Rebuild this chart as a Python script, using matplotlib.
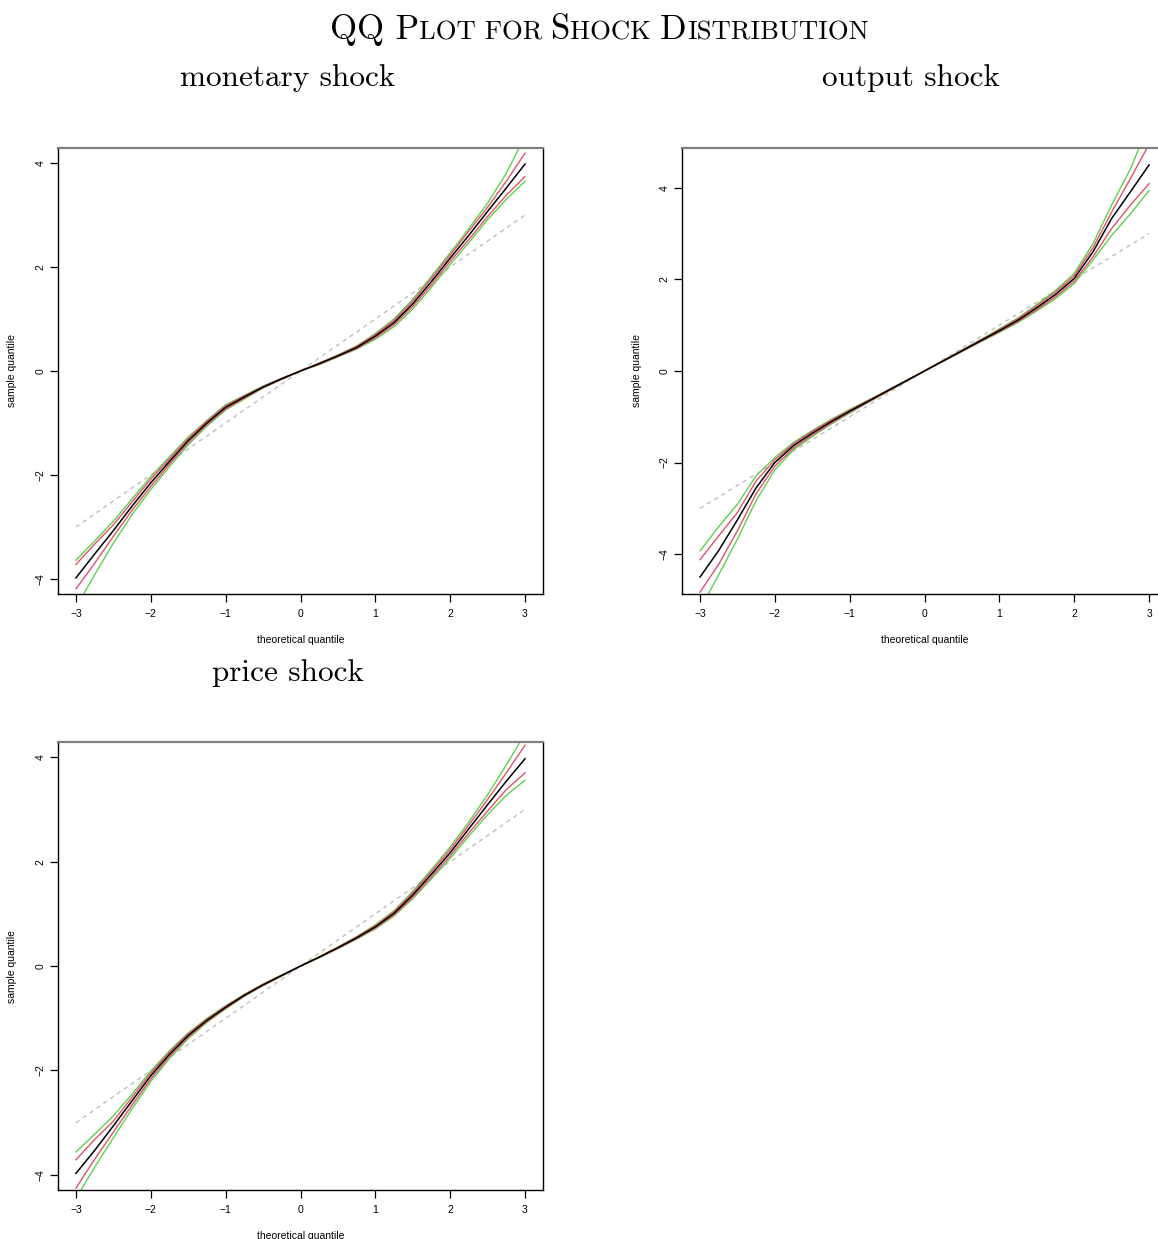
import matplotlib
matplotlib.use("Agg")
import matplotlib.pyplot as plt
from matplotlib.offsetbox import TextArea, HPacker, AnnotationBbox

# theoretical quantiles (x grid)
q = [-3.0, -2.75, -2.5, -2.25, -2.0, -1.75, -1.5, -1.25, -1.0, -0.75, -0.5, -0.25, 0.0,
     0.25, 0.5, 0.75, 1.0, 1.25, 1.5, 1.75, 2.0, 2.25, 2.5, 2.75, 3.0]

# monetary shock
mon_mid = [-3.98, -3.52, -3.07, -2.60, -2.15, -1.74, -1.34, -1.00, -0.70, -0.50, -0.31, -0.15, 0.00,
           0.14, 0.29, 0.45, 0.67, 0.93, 1.29, 1.72, 2.17, 2.61, 3.07, 3.52, 3.98]
mon_red_hi = [-3.72, -3.33, -2.96, -2.52, -2.08, -1.69, -1.30, -0.97, -0.67, -0.48, -0.30, -0.14, 0.00,
              0.15, 0.30, 0.47, 0.70, 0.97, 1.34, 1.78, 2.23, 2.69, 3.15, 3.65, 4.19]
mon_red_lo = [-4.19, -3.70, -3.18, -2.68, -2.22, -1.79, -1.38, -1.03, -0.73, -0.52, -0.32, -0.16, 0.00,
              0.13, 0.28, 0.43, 0.64, 0.89, 1.24, 1.66, 2.11, 2.53, 2.97, 3.38, 3.74]
mon_grn_hi = [-3.64, -3.27, -2.89, -2.46, -2.03, -1.65, -1.27, -0.95, -0.65, -0.47, -0.29, -0.14, 0.00,
              0.15, 0.31, 0.48, 0.72, 1.00, 1.38, 1.82, 2.27, 2.74, 3.23, 3.80, 4.52]
mon_grn_lo = [-4.55, -3.92, -3.31, -2.76, -2.28, -1.84, -1.42, -1.06, -0.75, -0.54, -0.33, -0.16, 0.00,
              0.12, 0.27, 0.42, 0.61, 0.85, 1.19, 1.61, 2.05, 2.47, 2.91, 3.30, 3.65]

# output shock
out_mid = [-4.50, -3.92, -3.25, -2.55, -2.00, -1.63, -1.36, -1.11, -0.88, -0.66, -0.44, -0.22, 0.00,
           0.22, 0.44, 0.66, 0.88, 1.11, 1.38, 1.67, 2.02, 2.60, 3.33, 3.91, 4.50]
out_red_hi = [-4.12, -3.60, -3.09, -2.40, -1.94, -1.59, -1.32, -1.08, -0.86, -0.645, -0.43, -0.215, 0.00,
              0.225, 0.45, 0.675, 0.90, 1.14, 1.42, 1.72, 2.08, 2.69, 3.47, 4.20, 4.95]
out_red_lo = [-4.83, -4.22, -3.49, -2.68, -2.08, -1.68, -1.40, -1.14, -0.90, -0.675, -0.45, -0.225, 0.00,
              0.215, 0.43, 0.645, 0.86, 1.08, 1.34, 1.62, 1.96, 2.49, 3.11, 3.62, 4.09]
out_grn_hi = [-3.93, -3.40, -2.91, -2.29, -1.89, -1.56, -1.30, -1.06, -0.84, -0.635, -0.425, -0.21, 0.00,
              0.23, 0.455, 0.685, 0.92, 1.16, 1.45, 1.76, 2.13, 2.78, 3.62, 4.41, 5.40]
out_grn_lo = [-5.20, -4.45, -3.67, -2.83, -2.16, -1.72, -1.43, -1.16, -0.92, -0.685, -0.455, -0.23, 0.00,
              0.21, 0.425, 0.635, 0.84, 1.06, 1.31, 1.58, 1.91, 2.42, 2.96, 3.43, 3.94]

# price shock
prc_mid = [-3.97, -3.53, -3.06, -2.58, -2.10, -1.69, -1.33, -1.04, -0.79, -0.56, -0.36, -0.18, 0.00,
           0.17, 0.35, 0.54, 0.75, 1.01, 1.36, 1.76, 2.17, 2.63, 3.09, 3.54, 3.97]
prc_red_hi = [-3.71, -3.32, -2.97, -2.51, -2.05, -1.65, -1.30, -1.02, -0.77, -0.55, -0.35, -0.175, 0.00,
              0.175, 0.36, 0.555, 0.77, 1.04, 1.40, 1.81, 2.23, 2.70, 3.19, 3.70, 4.23]
prc_red_lo = [-4.25, -3.70, -3.18, -2.66, -2.16, -1.73, -1.36, -1.06, -0.81, -0.57, -0.37, -0.185, 0.00,
              0.165, 0.34, 0.525, 0.73, 0.98, 1.32, 1.71, 2.11, 2.55, 2.97, 3.38, 3.70]
prc_grn_hi = [-3.56, -3.22, -2.87, -2.45, -2.01, -1.62, -1.28, -1.00, -0.76, -0.54, -0.345, -0.17, 0.00,
              0.18, 0.365, 0.565, 0.79, 1.06, 1.43, 1.85, 2.28, 2.76, 3.28, 3.85, 4.45]
prc_grn_lo = [-4.45, -3.85, -3.29, -2.73, -2.21, -1.77, -1.39, -1.08, -0.82, -0.58, -0.375, -0.19, 0.00,
              0.16, 0.335, 0.515, 0.71, 0.96, 1.29, 1.67, 2.06, 2.49, 2.90, 3.27, 3.56]

ref_x = [-3, 3]
ref_y = [-3, 3]

xticks = [-3, -2, -1, 0, 1, 2, 3]
yticks = [-4, -2, 0, 2, 4]

RED = "#DF536B"
GREEN = "#61D04F"
GREY = "#BEBEBE"

plt.rcParams['font.family'] = ['Liberation Sans', 'DejaVu Sans']

fig = plt.figure(figsize=(11.58, 12.39), dpi=100)

panels = [
    ("monetary shock", [0.0501, 0.5206, 0.4188, 0.360], 4.29,
     mon_mid, mon_red_hi, mon_red_lo, mon_grn_hi, mon_grn_lo, (288, 78)),
    ("output shock", [0.5890, 0.5206, 0.4188, 0.360], 4.87,
     out_mid, out_red_hi, out_red_lo, out_grn_hi, out_grn_lo, (911, 78)),
    ("price shock", [0.0501, 0.0395, 0.4188, 0.3616], 4.29,
     prc_mid, prc_red_hi, prc_red_lo, prc_grn_hi, prc_grn_lo, (288, 673)),
]

for name, rect, ylim, mid, rhi, rlo, ghi, glo, tpos in panels:
    ax = fig.add_axes(rect)
    ax.plot(ref_x, ref_y, color=GREY, lw=1.0, linestyle=(0, (3, 3)))
    ax.plot(q, ghi, color=GREEN, lw=1.0)
    ax.plot(q, glo, color=GREEN, lw=1.0)
    ax.plot(q, rhi, color=RED, lw=1.0)
    ax.plot(q, rlo, color=RED, lw=1.0)
    ax.plot(q, mid, color="black", lw=1.1)
    ax.set_xlim(-3.24, 3.24)
    ax.set_ylim(-ylim, ylim)
    ax.set_xticks(xticks)
    ax.set_yticks(yticks)
    ax.tick_params(length=6, width=0.9, labelsize=7.5, direction='out', pad=5)
    ax.tick_params(axis='y', labelrotation=90, pad=3)
    for lab in ax.get_yticklabels():
        lab.set_va('center')
    for s in ['left', 'bottom', 'right']:
        ax.spines[s].set_linewidth(1.0)
        ax.spines[s].set_color('black')
    ax.spines['top'].set_color('#7F7F7F')
    ax.spines['top'].set_linewidth(1.6)
    ax.set_xlabel('theoretical quantile', fontsize=7.5, labelpad=11)
    ax.set_ylabel('sample quantile', fontsize=7.5, labelpad=13)
    fig.text(tpos[0] / 1158, 1 - tpos[1] / 1239, name, fontfamily='cmr10',
             fontsize=22.5, ha='center', va='center')

# small-caps title built from pieces
big = dict(fontfamily='cmr10', fontsize=25)
small = dict(fontfamily='cmr10', fontsize=19.2)
pieces = [("QQ P", big), ("LOT FOR ", small), ("S", big), ("HOCK ", small),
          ("D", big), ("ISTRIBUTION", small)]
box = HPacker(children=[TextArea(t, textprops=p) for t, p in pieces],
              align="baseline", pad=0, sep=0)
bg = fig.add_axes([0, 0, 1, 1], zorder=-1)
bg.axis('off')
ab = AnnotationBbox(box, (599 / 1158, 1 - 30 / 1239), xycoords='figure fraction',
                    frameon=False, box_alignment=(0.5, 0.5))
bg.add_artist(ab)

fig.savefig('out.png', dpi=100)
